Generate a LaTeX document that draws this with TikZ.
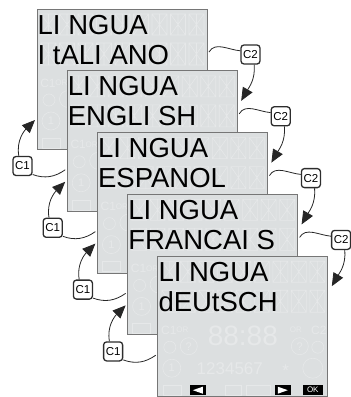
\documentclass[tikz,border=0pt]{standalone}
\usepackage{fontspec}
\setmainfont{Liberation Sans}
\usetikzlibrary{arrows.meta}
\definecolor{lcdbg}{RGB}{220,223,224}
\definecolor{lcdfaint}{RGB}{230,232,233}
\definecolor{lcdedge}{RGB}{118,118,118}
\definecolor{keyedge}{RGB}{45,45,45}
\newcommand{\lcdfont}{\fontsize{27.5}{30}\selectfont}
\tikzset{
  lcdline/.style={anchor=base west,inner sep=0pt,font=\lcdfont},
  faintline/.style={draw=lcdfaint,line width=0.6pt},
  fainttext/.style={text=lcdfaint,inner sep=0pt},
  keybox/.style={draw=keyedge,line width=1.3pt,rounded corners=3pt,fill=white,
    minimum width=19pt,minimum height=19pt,inner sep=0pt,font=\fontsize{11.5}{12}\selectfont},
  linkline/.style={line width=0.8pt,draw=black!85},
  linkarrow/.style={linkline,-{Triangle[length=13pt,width=11pt]}},
  lcdbutton/.style={fill=black,minimum width=16pt,minimum height=10pt,inner sep=0pt,
    text=white,font=\fontsize{8}{8}\selectfont},
}
\begin{document}
\begin{tikzpicture}[x=1pt,y=-1pt]
  \useasboundingbox (0,0) rectangle (351,397);
  \foreach \i/\lang in {0/I tALI ANO,1/ENGLI SH,2/ESPANOL,3/FRANCAI S,4/dEUtSCH}{
    \begin{scope}[shift={({37+30.2*\i},{9+61.8*\i})}]
      \fill[lcdbg] (0,0) rectangle (170,140.3);
      \foreach \c in {0,...,8}{
        \foreach \r/\h in {5/21,34/22}{
          \draw[faintline] ({4+18.5*\c},\r) rectangle +(15,\h)
            ({4+18.5*\c},\r) -- +(15,\h) ({19+18.5*\c},\r) -- +(-15,\h)
            ({11.5+18.5*\c},\r) -- +(0,\h);
        }
      }
      \node[fainttext,font=\fontsize{12}{12}\selectfont] (fa\i) at (11,74) {C1};
      \node[fainttext,font=\fontsize{8}{8}\selectfont] (fb\i) at (24.5,74) {OR};
      \draw[faintline] (12,91) circle (6) (31,90) circle (8.5) (14,112) circle (9);
      \node[fainttext,font=\fontsize{11}{11}\selectfont] (fs\i) at (14,112) {1};
      \draw[faintline] (5,129) rectangle (23,139);
      \ifnum\i=4
        \node[fainttext,font=\fontsize{28}{28}\selectfont] (fc\i) at (85,80) {88:88};
        \node[fainttext,font=\fontsize{8}{8}\selectfont] (fd\i) at (138,74) {OR};
        \node[fainttext,font=\fontsize{12}{12}\selectfont] (fe\i) at (161,74) {C2};
        \draw[faintline] (142,90) circle (8.5) (160,91) circle (6) (155,112) circle (10);
        \node[fainttext,font=\fontsize{11}{11}\selectfont] (fq\i) at (31,90) {?};
        \node[fainttext,font=\fontsize{11}{11}\selectfont] (fr\i) at (142,90) {?};
        \node[fainttext,font=\fontsize{17}{17}\selectfont] (ft\i) at (72,112) {1234567};
        \node[fainttext,font=\fontsize{17}{17}\selectfont] (fu\i) at (128,114) {*};
        \draw[faintline] (67,129) rectangle (83,139) (88,129) rectangle (112,139);
        \node[lcdbutton] (bl\i) at (40,134) {};
        \fill[white] (35,134) -- (45,130.5) -- (45,137.5) -- cycle;
        \node[lcdbutton] (br\i) at (125,134) {};
        \fill[white] (130,134) -- (120,130.5) -- (120,137.5) -- cycle;
        \node[lcdbutton,minimum width=20pt] (bo\i) at (155,134) {OK};
      \fi
      \draw[lcdedge,line width=0.8pt] (0,0) rectangle (170,140.3);
      \node[lcdline] (ta\i) at (0.5,25) {LI NGUA};
      \node[lcdline] (tb\i) at (0.5,55) {\lang};
      \coordinate (rout\i) at (172,43);
      \coordinate (rin\i) at (174,30);
      \coordinate (lout\i) at (-2,99);
      \coordinate (lin\i) at (-2,111);
    \end{scope}
  }
  \foreach \i in {0,...,3}{
    \pgfmathtruncatemacro{\j}{\i+1}
    \node[keybox] (ctwo\i) at ({37+30.2*\i+213.5},{9+61.8*\i+45.5}) {C2};
    \node[keybox] (cone\i) at ({37+30.2*\i-14.5},{9+61.8*\i+157}) {C1};
    \draw[linkline] (rout\i) to[out=60,in=175] (ctwo\i.160);
    \draw[linkarrow] (ctwo\i.-70) to[out=-85,in=60] (rin\j);
    \draw[linkline] (lout\j) to[out=215,in=-20] (cone\i.-40);
    \draw[linkarrow] (cone\i.110) to[out=100,in=225] (lin\i);
  }
\end{tikzpicture}
\end{document}
